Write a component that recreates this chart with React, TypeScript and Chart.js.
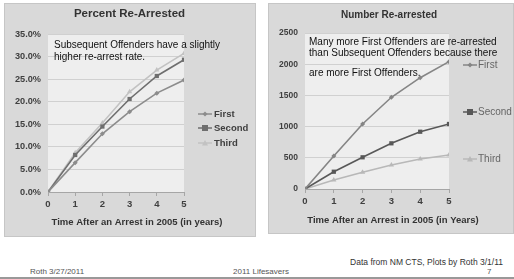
import React, { useEffect, useRef } from "react";
import { Chart, registerables } from "chart.js";
Chart.register(...registerables);

const years = [0, 1, 2, 3, 4, 5];
const seriesNames = ["First", "Second", "Third"];
const pctFirst = [0, 6.5, 12.9, 17.8, 21.9, 24.8];
const pctSecond = [0, 8.2, 14.5, 20.6, 25.7, 29.3];
const pctThird = [0, 8.7, 15.3, 22.2, 27.0, 30.7];
const numFirst = [0, 529, 1042, 1470, 1784, 2040];
const numSecond = [0, 277, 508, 732, 918, 1042];
const numThird = [0, 144, 267, 385, 481, 545];

const leftTitle = "Percent Re-Arrested";
const rightTitle = "Number Re-arrested";
const leftXTitle = "Time After an Arrest in 2005 (in years)";
const rightXTitle = "Time After an Arrest in 2005 (in Years)";
const leftNote = ["Subsequent Offenders have a slightly", "higher re-arrest rate."];
const rightNote = ["Many more First Offenders are re-arrested", "than Subsequent Offenders because there", "are more First Offenders."];

const FONT = "'Liberation Sans', Arial, sans-serif";

type Style = { color: string; shape: string; r: number };

function drawMarker(ctx: CanvasRenderingContext2D, shape: string, x: number, y: number, r: number, color: string) {
  ctx.save();
  ctx.fillStyle = color;
  ctx.beginPath();
  if (shape === "rect") {
    ctx.rect(x - r, y - r, 2 * r, 2 * r);
  } else if (shape === "triangle") {
    ctx.moveTo(x, y - r);
    ctx.lineTo(x + r, y + r * 0.8);
    ctx.lineTo(x - r, y + r * 0.8);
    ctx.closePath();
  } else {
    ctx.moveTo(x, y - r);
    ctx.lineTo(x + r, y);
    ctx.lineTo(x, y + r);
    ctx.lineTo(x - r, y);
    ctx.closePath();
  }
  ctx.fill();
  ctx.restore();
}

type Deco = {
  title: string;
  titleSize: number;
  titleX: number;
  titleY: number;
  xTitle: string;
  xTitleX: number;
  xTitleY: number;
  legendX1: number;
  legendX2: number;
  legendTextX: number;
  legendY: number[];
  legendBold: boolean;
  legendColor: string;
  styles: Style[];
  note: string[];
  noteX: number;
  noteY: number[];
};

function makePlugin(d: Deco) {
  return {
    id: "deco",
    beforeDraw(chart: any) {
      const { ctx, width, height, chartArea } = chart;
      ctx.save();
      ctx.fillStyle = "#d9d9d9";
      ctx.fillRect(0, 0, width, height);
      ctx.strokeStyle = "#c6c6c6";
      ctx.lineWidth = 1;
      ctx.strokeRect(0.5, 0.5, width - 1, height - 1);
      ctx.fillStyle = "#eeeeee";
      ctx.fillRect(chartArea.left, chartArea.top, chartArea.right - chartArea.left, chartArea.bottom - chartArea.top);
      ctx.restore();
    },
    afterDatasetsDraw(chart: any) {
      const { ctx } = chart;
      ctx.save();
      ctx.fillStyle = "#111111";
      ctx.font = `10px ${FONT}`;
      ctx.textAlign = "left";
      ctx.textBaseline = "middle";
      d.note.forEach((t, i) => ctx.fillText(t, d.noteX, d.noteY[i]));
      ctx.restore();
    },
    afterDraw(chart: any) {
      const { ctx } = chart;
      ctx.save();
      ctx.fillStyle = "#333333";
      ctx.textBaseline = "middle";
      ctx.textAlign = "center";
      ctx.font = `bold ${d.titleSize}px ${FONT}`;
      ctx.fillText(d.title, d.titleX, d.titleY);
      ctx.font = `bold 9.5px ${FONT}`;
      ctx.fillText(d.xTitle, d.xTitleX, d.xTitleY);
      // legend
      seriesNames.forEach((name, i) => {
        const s = d.styles[i];
        const y = d.legendY[i];
        ctx.strokeStyle = s.color;
        ctx.lineWidth = 1.5;
        ctx.beginPath();
        ctx.moveTo(d.legendX1, y);
        ctx.lineTo(d.legendX2, y);
        ctx.stroke();
        drawMarker(ctx, s.shape, (d.legendX1 + d.legendX2) / 2, y, s.r, s.color);
        ctx.fillStyle = d.legendColor;
        ctx.textAlign = "left";
        ctx.font = `${d.legendBold ? "bold " : ""}${d.legendBold ? 9.5 : 10}px ${FONT}`;
        ctx.fillText(name, d.legendTextX, y + 0.5);
      });
      ctx.restore();
    },
  };
}

function buildChart(
  canvas: HTMLCanvasElement,
  data: number[][],
  styles: Style[],
  yMax: number,
  yStep: number,
  yFmt: (v: number) => string,
  yFontSize: number,
  yWidth: number,
  pad: { top: number; right: number },
  xHeight: number,
  deco: Deco
) {
  return new Chart(canvas, {
    type: "line",
    data: {
      datasets: data.map((arr, i) => ({
        label: seriesNames[i],
        data: years.map((x, j) => ({ x, y: arr[j] })),
        borderColor: styles[i].color,
        backgroundColor: styles[i].color,
        borderWidth: 1.6,
        pointStyle: styles[i].shape as any,
        pointRadius: styles[i].r,
        pointBorderWidth: 0,
        tension: 0,
      })),
    },
    options: {
      responsive: false,
      animation: false,
      devicePixelRatio: 1,
      layout: { padding: { top: pad.top, right: pad.right, left: 0, bottom: 0 } },
      plugins: { legend: { display: false }, title: { display: false }, tooltip: { enabled: false } },
      scales: {
        x: {
          type: "linear",
          min: 0,
          max: 5,
          afterFit: (s: any) => {
            s.height = xHeight;
          },
          ticks: { stepSize: 1, padding: 3, color: "#404040", font: { family: FONT, size: 9.5, weight: "bold" } },
          grid: { drawOnChartArea: false, drawTicks: true, tickLength: 4, color: "#a6a6a6" },
          border: { display: true, color: "#a6a6a6", width: 1 },
        },
        y: {
          min: 0,
          max: yMax,
          afterFit: (s: any) => {
            s.width = yWidth;
          },
          ticks: { stepSize: yStep, padding: 7, color: "#404040", callback: (v: any) => yFmt(Number(v)), font: { family: FONT, size: yFontSize, weight: "bold" } },
          grid: { color: "#d0d0d0", drawTicks: false, lineWidth: 1 },
          border: { display: false },
        },
      },
    },
    plugins: [makePlugin(deco)],
  } as any);
}

const leftStyles: Style[] = [
  { color: "#8c8c8c", shape: "rectRot", r: 2.5 },
  { color: "#6e6e6e", shape: "rect", r: 3 },
  { color: "#c2c2c2", shape: "triangle", r: 3 },
];
const rightStyles: Style[] = [
  { color: "#858585", shape: "rectRot", r: 2.5 },
  { color: "#585858", shape: "rect", r: 3 },
  { color: "#b8b8b8", shape: "triangle", r: 3 },
];

export default function App() {
  const leftRef = useRef<HTMLCanvasElement>(null);
  const rightRef = useRef<HTMLCanvasElement>(null);

  useEffect(() => {
    const c1 = buildChart(
      leftRef.current!,
      [pctFirst, pctSecond, pctThird],
      leftStyles,
      35,
      5,
      (v) => v.toFixed(1) + "%",
      9.2,
      44,
      { top: 31, right: 72 },
      45,
      {
        title: leftTitle,
        titleSize: 11.5,
        titleX: 125.5,
        titleY: 11,
        xTitle: leftXTitle,
        xTitleX: 133,
        xTitleY: 219,
        legendX1: 194,
        legendX2: 208,
        legendTextX: 210,
        legendY: [111, 125, 140],
        legendBold: true,
        legendColor: "#404040",
        styles: leftStyles,
        note: leftNote,
        noteX: 50,
        noteY: [42, 54],
      }
    );
    const c2 = buildChart(
      rightRef.current!,
      [numFirst, numSecond, numThird],
      rightStyles,
      2500,
      500,
      (v) => String(v),
      8.5,
      37,
      { top: 30, right: 65 },
      45,
      {
        title: rightTitle,
        titleSize: 10,
        titleX: 121,
        titleY: 12,
        xTitle: rightXTitle,
        xTitleX: 125,
        xTitleY: 217,
        legendX1: 195,
        legendX2: 209,
        legendTextX: 210,
        legendY: [62, 109, 156],
        legendBold: false,
        legendColor: "#666666",
        styles: rightStyles,
        note: rightNote,
        noteX: 41,
        noteY: [39, 50, 70],
      }
    );
    return () => {
      c1.destroy();
      c2.destroy();
    };
  }, []);

  const footer: React.CSSProperties = { position: "absolute", fontFamily: FONT, whiteSpace: "nowrap", lineHeight: "10px" };

  return (
    <div style={{ position: "absolute", left: 0, top: 0, width: 514, height: 279, background: "#ffffff", overflow: "hidden" }}>
      <canvas ref={leftRef} width={252} height={234} style={{ position: "absolute", left: 4, top: 3, width: 252, height: 234 }} />
      <canvas ref={rightRef} width={246} height={231} style={{ position: "absolute", left: 268, top: 3, width: 246, height: 231 }} />
      <div style={{ ...footer, right: 11, top: 257, fontSize: 8.5, color: "#333" }}>Data from NM CTS, Plots by Roth 3/1/11</div>
      <div style={{ ...footer, left: 30, top: 267, fontSize: 8, color: "#555" }}>Roth 3/27/2011</div>
      <div style={{ ...footer, left: 233, top: 267, fontSize: 8, color: "#555" }}>2011 Lifesavers</div>
      <div style={{ ...footer, left: 487, top: 267, fontSize: 8, color: "#555" }}>7</div>
      <div style={{ position: "absolute", left: 0, top: 277, width: 514, height: 2, background: "#999" }} />
    </div>
  );
}
